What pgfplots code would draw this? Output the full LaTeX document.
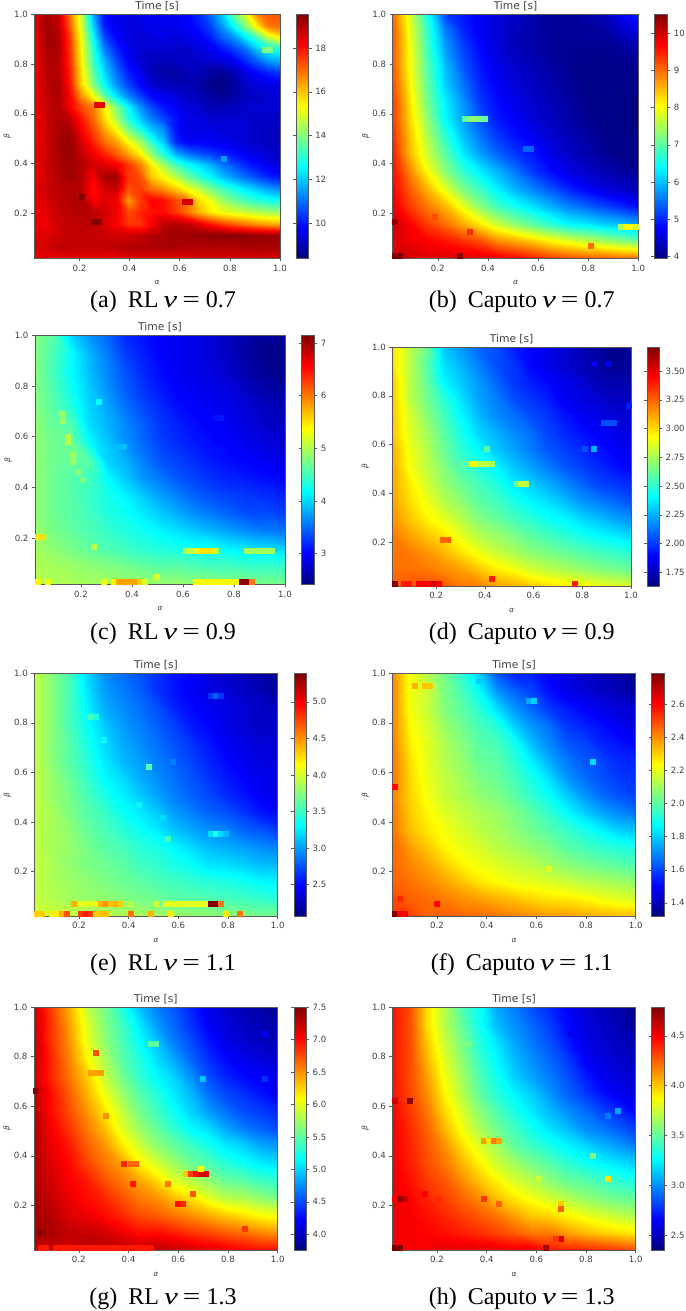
\documentclass[border=0pt]{standalone}
\usepackage{fontspec}
\setmainfont{DejaVu Sans}
\newfontfamily\capfont{Liberation Serif}
\usepackage{pgfplots}
\usepackage{pgfplotstable}
\pgfplotsset{compat=1.18}
\pgfplotsset{table/row sep=crcr,
  colormap/jet,
  axis line style={black!65,line width=0.6pt},
  tick style={black!65,line width=0.5pt},
  major tick length=3pt,
  tick align=outside,
  tick label style={font=\fontsize{8.6}{10}\selectfont,text=black!75},
  /pgf/number format/assume math mode=true,
  hm/.style={scale only axis, anchor=south west, xmin=0.02,xmax=1,ymin=0.02,ymax=1,
    xtick={0.2,0.4,0.6,0.8,1.0},ytick={0.2,0.4,0.6,0.8,1.0},
    xtick pos=left,ytick pos=left,
    xticklabel style={/pgf/number format/.cd,fixed,fixed zerofill,precision=1},
    yticklabel style={/pgf/number format/.cd,fixed,fixed zerofill,precision=1},
    xlabel={\itshape α},ylabel={\itshape β},
    xlabel style={font=\fontsize{7.5}{9}\selectfont,text=black!75,at={(axis description cs:0.5,0)},anchor=center,yshift=-24pt},
    ylabel style={font=\fontsize{7.5}{9}\selectfont,text=black!75,at={(axis description cs:0,0.5)},anchor=center,yshift=27pt},
    title={Time [s]},
    title style={font=\fontsize{10.7}{12}\selectfont,text=black!75,at={(0.5,1)},anchor=center,yshift=2pt},
    axis on top,
    colorbar},
  cb/.style n args={5}{colorbar style={at={(parent axis.north east)},anchor=north west,xshift=#1pt-8.5pt,width=#2pt,
    ytick={#3},
    yticklabel style={/pgf/number format/.cd,fixed,fixed zerofill,precision=#4},
    ylabel={}}, point meta min=#5}
}
\newcommand\hm[3]{%
  \addplot[surf,shader=interp,mesh/cols=#1,point meta=explicit]
    table[x index=0,y index=0,x expr={0.02+0.98/(#1-1)*mod(\coordindex,#1)},y expr={0.02+0.98/(#1-1)*floor((\coordindex+0.5)/#1)},meta=z]{#2};
  \addplot[scatter,only marks,mark=square*,mark size=2.5,scatter src=explicit,scatter/use mapped color={draw=mapped color,fill=mapped color},mark options={line width=0pt}]
    table[x=a,y=b,meta=c]{#3};
}
\newcommand\capt[3]{\node[anchor=base,font=\capfont\fontsize{24}{26}\selectfont,text=black] at (#1pt,#2pt) {#3};}
\newcommand\nueq[1]{\hspace{-1pt}\scalebox{1.3}[1]{\itshape ν}\hspace{5pt}\scalebox{1.3}[1]{=}\hspace{6pt}#1}

\pgfplotstableread[row sep=crcr]{z\\
18.3\\18.5\\18.4\\18.4\\18.4\\18.4\\18.4\\18.4\\18.5\\18.5\\18.5\\18.5\\18.5\\18.5\\18.6\\18.6\\18.6\\18.6\\18.6\\18.6\\18.6\\18.6\\
18.6\\18.6\\18.9\\18.9\\18.8\\18.8\\18.8\\18.9\\19\\19\\19.1\\19.1\\19.1\\19\\19\\19\\19\\19\\19.1\\19.1\\19.1\\19.1\\
18.5\\18.5\\18.7\\18.8\\18.8\\18.8\\18.7\\18.6\\18.7\\18.8\\19\\19.1\\19.2\\19.2\\19.3\\19.4\\19.4\\19.4\\19.4\\19.3\\19.3\\19.2\\
18.4\\18.3\\18.7\\18.8\\18.9\\18.9\\18.6\\18.2\\17.6\\17.6\\18.2\\18.9\\19\\18.9\\18.5\\18\\17.6\\17.2\\16.9\\16.6\\16.4\\16.3\\
18.3\\18.5\\18.8\\18.9\\19\\18.9\\18.7\\18.3\\17.4\\17.8\\18\\18\\17.6\\17\\16.2\\15.6\\15.2\\15\\14.8\\14.6\\14.4\\14.3\\
18.3\\18.6\\18.9\\19\\19.1\\18.2\\18.5\\18.4\\16.5\\17.5\\18.2\\18\\17.4\\17\\15.8\\15.2\\14.4\\13.8\\13.3\\13\\12.8\\12.6\\
18.5\\18.7\\18.9\\19\\18.9\\18\\18.6\\18.8\\17.3\\17.5\\17\\16.6\\16\\15.4\\14.8\\14\\13.4\\12.9\\12.4\\12\\11.6\\11.3\\
18.3\\18.7\\19\\19.2\\19\\18.2\\19.1\\19.2\\17.6\\17.3\\16\\15.4\\14.7\\13.9\\13.2\\12.6\\12\\11.5\\11\\10.6\\10.2\\10\\
18.3\\18.8\\19\\19.2\\19\\18.6\\18.5\\18.3\\17.6\\16.8\\15.6\\14.4\\13.4\\12.8\\12.3\\11.8\\11.2\\10.7\\10.2\\9.9\\9.6\\9.4\\
18.3\\18.7\\19.1\\19.3\\18.8\\18.3\\17.8\\17.2\\16.4\\15.6\\14.2\\13\\11.8\\11.2\\10.8\\10.5\\10.2\\10\\9.7\\9.5\\9.3\\9.2\\
18.3\\18.7\\19.2\\19.3\\18.6\\17.8\\17\\16.4\\15.4\\14.4\\13.2\\12\\10.3\\9.8\\9.8\\9.7\\9.6\\9.5\\9.3\\9.2\\9.1\\9.1\\
18.2\\18.7\\19.1\\19.2\\18.2\\17.4\\16.4\\15.4\\14\\13\\12\\11.4\\10\\9.5\\9.5\\9.5\\9.4\\9.4\\9.3\\9.2\\9.1\\9.1\\
18.3\\18.7\\19\\18.9\\18\\17\\15.8\\14.5\\13\\12\\11.2\\10.6\\10\\9.5\\9.5\\9.3\\9.3\\9.3\\9.3\\9.2\\9.2\\9.2\\
18.3\\18.8\\19\\18.3\\17.4\\16.8\\15.5\\14\\12.6\\11.4\\10.6\\10\\9.8\\9.4\\9.3\\9\\9\\9.1\\9.3\\9.3\\9.3\\9.3\\
18.3\\18.8\\19.1\\18.2\\16.5\\15.2\\13.6\\12.2\\11.2\\10.4\\9.8\\9.6\\9.4\\9.2\\9\\8.7\\8.6\\8.8\\9.1\\9.2\\9.3\\9.3\\
18.3\\18.9\\19.1\\18\\15.8\\14\\12.6\\11.4\\10.5\\9.8\\9.3\\9.1\\9\\9\\8.8\\8.5\\8.45\\8.7\\9.2\\9.4\\9.5\\9.6\\
18.3\\18.9\\19\\17.9\\15.7\\13.6\\12.2\\11\\10.1\\9.6\\9.1\\8.8\\8.8\\9\\9.1\\8.8\\8.6\\8.9\\9.5\\9.9\\10.2\\10.4\\
18.3\\19\\19\\17.8\\15.5\\13.2\\11.8\\10.6\\9.8\\9.3\\9.1\\9\\9.1\\9.2\\9.2\\9.3\\9.4\\9.6\\10.2\\10.8\\11.4\\11.7\\
18.3\\19.1\\19.1\\17.7\\15.4\\13\\11.2\\10.2\\9.6\\9.3\\9.3\\9.3\\9.2\\9.2\\9.4\\9.6\\10\\10.4\\11\\12\\12.6\\12.8\\
18.3\\19.2\\19\\17.6\\15.2\\12.6\\10.6\\9.8\\9.4\\9.3\\9.4\\9.5\\9.4\\9.5\\9.7\\10.1\\10.8\\11.4\\12.4\\13.4\\14.8\\15.6\\
18.4\\19.2\\18.9\\17.3\\15\\12.1\\10.1\\9.6\\9.5\\9.5\\9.6\\9.6\\9.6\\9.7\\10\\10.5\\11.4\\12.6\\14\\15.6\\16.8\\17\\
18.5\\19\\18.8\\17\\14.8\\11.6\\9.9\\9.5\\9.4\\9.5\\9.6\\9.7\\9.7\\9.8\\10.2\\11\\12\\13.6\\15\\16.7\\17.2\\17.2\\
}\ta
\pgfplotstableread[row sep=crcr]{a b c\\
0.27 0.637 18.4\\0.29 0.637 18.4\\0.62 0.245 18.6\\0.64 0.245 18.6\\0.26 0.167 19.5\\0.28 0.167 19.5\\0.775 0.42 11.5\\0.94 0.855 14\\0.96 0.855 14\\0.21 0.265 19.5\\
}\ma

\pgfplotstableread[row sep=crcr]{z\\
9.9\\10\\9.9\\9.9\\9.9\\9.9\\9.8\\9.7\\9.5\\9.3\\9.2\\9.1\\9.1\\9\\9\\
9.9\\9.8\\9.7\\9.6\\9.4\\9.2\\8.8\\8.6\\8.4\\8.1\\7.9\\7.7\\7.5\\7.3\\7.1\\
10\\9.7\\9.3\\9\\8.6\\8.2\\7.7\\7.3\\7\\6.7\\6.4\\6.3\\6.1\\6\\5.8\\
9.8\\9.3\\8.9\\8.5\\7.9\\7.3\\6.8\\6.5\\6.2\\5.9\\5.6\\5.4\\5.2\\5\\4.8\\
9.7\\9.1\\8.5\\7.9\\7.2\\6.8\\6.3\\5.9\\5.6\\5.3\\5\\4.75\\4.55\\4.45\\4.3\\
9.6\\8.8\\8\\7.3\\6.7\\6.3\\5.9\\5.5\\5.1\\4.8\\4.6\\4.4\\4.25\\4.15\\4.05\\
9.5\\8.5\\7.7\\7\\6.3\\5.8\\5.4\\5.1\\4.9\\4.6\\4.4\\4.25\\4.1\\4\\4\\
9.4\\8.4\\7.5\\6.7\\6\\5.5\\5.1\\4.85\\4.65\\4.45\\4.3\\4.15\\4\\3.98\\3.97\\
9.3\\8.3\\7.3\\6.4\\5.8\\5.3\\4.9\\4.7\\4.5\\4.35\\4.2\\4.05\\3.98\\3.96\\3.95\\
9.3\\8.2\\7.1\\6.3\\5.7\\5.1\\4.8\\4.6\\4.4\\4.3\\4.15\\4\\3.98\\3.96\\3.95\\
9.2\\8.1\\7\\6.1\\5.5\\5\\4.7\\4.5\\4.35\\4.2\\4.1\\4\\4\\4\\4\\
9.1\\8\\6.9\\6\\5.3\\4.9\\4.6\\4.4\\4.3\\4.15\\4.05\\4\\4\\4\\4.05\\
9.1\\8\\6.8\\5.8\\5.2\\4.8\\4.5\\4.3\\4.2\\4.1\\4.05\\4.05\\4.05\\4.1\\4.2\\
9.1\\7.9\\6.7\\5.6\\5\\4.7\\4.5\\4.3\\4.2\\4.1\\4.1\\4.1\\4.15\\4.4\\4.6\\
9\\7.8\\6.5\\5.2\\4.9\\4.7\\4.5\\4.4\\4.2\\4.1\\4.1\\4.2\\4.3\\4.7\\5\\
}\tb
\pgfplotstableread[row sep=crcr]{a b c\\
0.31 0.58 7\\0.33 0.58 7.2\\0.35 0.58 7.4\\0.37 0.58 7.2\\0.39 0.58 7\\0.03 0.167 10.4\\0.03 0.03 10.5\\0.05 0.03 10.5\\0.29 0.03 10.5\\0.33 0.127 9.4\\0.19 0.187 9.2\\0.81 0.07 9\\0.93 0.147 7.5\\0.95 0.147 8\\0.97 0.147 8\\0.99 0.147 7.8\\0.55 0.46 5.4\\0.57 0.46 5.4\\
}\mb

\pgfplotstableread[row sep=crcr]{z\\
5.05\\5\\5\\4.95\\4.95\\4.9\\4.9\\4.9\\4.9\\4.85\\4.85\\4.8\\4.8\\4.75\\4.75\\
5\\4.95\\4.9\\4.85\\4.8\\4.75\\4.65\\4.6\\4.6\\4.55\\4.5\\4.5\\4.45\\4.45\\4.45\\
4.95\\4.85\\4.75\\4.65\\4.55\\4.5\\4.4\\4.35\\4.3\\4.25\\4.25\\4.15\\4.1\\4.05\\4\\
4.9\\4.75\\4.65\\4.55\\4.45\\4.35\\4.25\\4.15\\4.05\\3.95\\3.85\\3.75\\3.65\\3.6\\3.55\\
4.85\\4.7\\4.6\\4.5\\4.35\\4.25\\4.1\\3.95\\3.8\\3.65\\3.55\\3.45\\3.35\\3.35\\3.3\\
4.85\\4.7\\4.6\\4.45\\4.3\\4.15\\3.95\\3.75\\3.6\\3.45\\3.35\\3.3\\3.25\\3.2\\3.15\\
4.85\\4.7\\4.6\\4.5\\4.2\\3.95\\3.7\\3.55\\3.4\\3.3\\3.2\\3.15\\3.1\\3.05\\3\\
4.85\\4.7\\4.65\\4.6\\4\\3.85\\3.6\\3.4\\3.3\\3.2\\3.1\\3.05\\3\\2.95\\2.9\\
4.85\\4.7\\4.7\\4.2\\3.95\\3.7\\3.5\\3.3\\3.2\\3.1\\3.05\\3\\2.9\\2.85\\2.8\\
4.85\\4.65\\4.55\\4.05\\3.85\\3.65\\3.45\\3.25\\3.15\\3.05\\3\\2.95\\2.85\\2.75\\2.7\\
4.8\\4.6\\4.35\\4\\3.8\\3.55\\3.35\\3.2\\3.05\\3\\2.95\\2.9\\2.8\\2.7\\2.65\\
4.8\\4.55\\4.25\\3.95\\3.7\\3.45\\3.25\\3.1\\3\\2.95\\2.9\\2.85\\2.7\\2.6\\2.55\\
4.8\\4.5\\4.2\\3.9\\3.65\\3.4\\3.2\\3.05\\2.95\\2.9\\2.85\\2.75\\2.6\\2.5\\2.45\\
4.8\\4.55\\4.2\\3.85\\3.6\\3.3\\3.15\\3\\2.95\\2.9\\2.8\\2.7\\2.55\\2.45\\2.45\\
4.8\\4.6\\4\\3.7\\3.5\\3.2\\3.1\\3\\2.95\\2.9\\2.8\\2.7\\2.6\\2.55\\2.5\\
}\tc
\pgfplotstableread[row sep=crcr]{a b c\\
0.03 0.03 5.4\\0.07 0.03 5.3\\0.29 0.03 5.3\\0.33 0.03 5.4\\0.35 0.03 5.8\\0.37 0.03 5.8\\0.39 0.03 5.8\\0.41 0.03 5.8\\0.43 0.03 5.6\\0.45 0.03 5.2\\0.65 0.03 5.4\\0.67 0.03 5.4\\0.69 0.03 5.4\\0.71 0.03 5.4\\0.73 0.03 5.4\\0.75 0.03 5.4\\0.77 0.03 5.4\\0.79 0.03 5.4\\0.81 0.03 5.4\\0.83 0.03 7.1\\0.85 0.03 7.1\\0.87 0.03 6\\
0.03 0.207 5.5\\0.05 0.207 5.5\\0.25 0.165 5.1\\0.27 0.735 4.2\\0.5 0.05 5.2\\0.61 0.15 5\\0.63 0.15 5.1\\0.65 0.15 5.2\\0.67 0.15 5.5\\0.69 0.15 5.5\\0.71 0.15 5.5\\0.73 0.15 5.1\\0.85 0.15 4.95\\0.87 0.15 4.95\\0.89 0.15 4.95\\0.91 0.15 4.95\\0.93 0.15 4.95\\0.95 0.15 4.95\\
0.73 0.675 3.1\\0.75 0.675 3.1\\0.52 0.615 3.25\\0.35 0.56 3.9\\0.37 0.56 3.9\\0.125 0.69 4.95\\0.13 0.66 4.95\\0.15 0.6 5.05\\0.15 0.58 5.05\\0.17 0.53 4.95\\0.17 0.5 4.9\\0.19 0.46 4.85\\0.21 0.43 4.75\\0.73 0.58 3\\0.75 0.58 3\\
}\mc

\pgfplotstableread[row sep=crcr]{z\\
3.25\\3.27\\3.3\\3.28\\3.2\\3.2\\3.12\\3.1\\3.05\\3\\2.97\\2.95\\2.9\\2.88\\2.85\\
3.22\\3.22\\3.2\\3.17\\3.12\\3.05\\2.97\\2.92\\2.84\\2.8\\2.76\\2.72\\2.68\\2.65\\2.62\\
3.22\\3.2\\3.15\\3.08\\2.98\\2.9\\2.82\\2.76\\2.7\\2.66\\2.62\\2.58\\2.55\\2.52\\2.48\\
3.2\\3.12\\3.05\\2.98\\2.88\\2.78\\2.72\\2.67\\2.6\\2.55\\2.5\\2.45\\2.4\\2.37\\2.33\\
3.15\\3.05\\2.95\\2.88\\2.78\\2.68\\2.62\\2.55\\2.5\\2.43\\2.4\\2.33\\2.28\\2.22\\2.18\\
3.12\\3\\2.9\\2.78\\2.7\\2.6\\2.55\\2.47\\2.4\\2.35\\2.28\\2.2\\2.15\\2.1\\2.05\\
3.1\\2.97\\2.85\\2.72\\2.63\\2.55\\2.48\\2.38\\2.32\\2.25\\2.18\\2.1\\2.03\\2\\1.97\\
3.1\\2.92\\2.8\\2.68\\2.55\\2.47\\2.4\\2.3\\2.22\\2.15\\2.07\\2.02\\1.97\\1.92\\1.88\\
3.1\\2.9\\2.78\\2.63\\2.5\\2.4\\2.3\\2.23\\2.15\\2.07\\2.02\\1.97\\1.92\\1.88\\1.85\\
3.05\\2.87\\2.75\\2.6\\2.45\\2.33\\2.25\\2.18\\2.12\\2.03\\1.97\\1.92\\1.88\\1.85\\1.83\\
3.05\\2.85\\2.7\\2.55\\2.4\\2.27\\2.18\\2.12\\2.05\\2\\1.93\\1.87\\1.84\\1.8\\1.8\\
3.05\\2.8\\2.65\\2.5\\2.35\\2.22\\2.15\\2.05\\2\\1.95\\1.87\\1.83\\1.8\\1.76\\1.76\\
3.05\\2.8\\2.62\\2.4\\2.3\\2.2\\2.1\\2\\1.95\\1.9\\1.85\\1.8\\1.74\\1.72\\1.72\\
3\\2.8\\2.6\\2.35\\2.25\\2.15\\2.05\\2\\1.9\\1.85\\1.8\\1.75\\1.7\\1.66\\1.68\\
3\\2.8\\2.65\\2.3\\2.2\\2.1\\2.05\\1.95\\1.9\\1.85\\1.8\\1.75\\1.7\\1.65\\1.67\\
}\td
\pgfplotstableread[row sep=crcr]{a b c\\
0.03 0.03 3.71\\0.07 0.03 3.4\\0.09 0.03 3.4\\0.13 0.03 3.45\\0.15 0.03 3.45\\0.17 0.03 3.45\\0.19 0.03 3.55\\0.21 0.03 3.45\\0.43 0.047 3.4\\0.77 0.03 3.4\\0.23 0.207 3.25\\0.25 0.207 3.25\\
0.31 0.52 2.6\\0.33 0.52 2.6\\0.35 0.52 2.95\\0.37 0.52 2.8\\0.39 0.52 2.8\\0.41 0.52 2.8\\0.43 0.52 2.75\\0.53 0.44 2.6\\0.55 0.44 2.8\\0.57 0.44 2.8\\0.41 0.58 2.6\\0.81 0.58 2.05\\0.85 0.58 2.25\\0.89 0.69 2.05\\0.91 0.69 2.05\\0.93 0.69 2.05\\0.85 0.93 1.85\\0.91 0.93 1.85\\0.99 0.76 1.95\\
}\md

\pgfplotstableread[row sep=crcr]{z\\
4\\3.97\\3.95\\3.92\\3.9\\3.88\\3.88\\3.85\\3.85\\3.8\\3.8\\3.75\\3.75\\3.7\\3.7\\
3.95\\3.9\\3.85\\3.8\\3.78\\3.75\\3.7\\3.67\\3.62\\3.6\\3.58\\3.55\\3.52\\3.48\\3.45\\
3.95\\3.87\\3.82\\3.78\\3.72\\3.67\\3.62\\3.57\\3.52\\3.47\\3.43\\3.4\\3.36\\3.3\\3.28\\
3.95\\3.87\\3.78\\3.72\\3.67\\3.62\\3.52\\3.47\\3.4\\3.33\\3.23\\3.2\\3.16\\3.1\\3.08\\
3.95\\3.85\\3.8\\3.7\\3.6\\3.55\\3.45\\3.4\\3.3\\3.2\\3.1\\3.05\\3\\2.95\\2.9\\
3.95\\3.85\\3.78\\3.65\\3.55\\3.45\\3.35\\3.25\\3.12\\3.02\\2.95\\2.9\\2.8\\2.75\\2.65\\
3.95\\3.85\\3.72\\3.6\\3.5\\3.35\\3.25\\3.15\\3\\2.9\\2.8\\2.75\\2.65\\2.55\\2.5\\
3.95\\3.8\\3.7\\3.55\\3.4\\3.28\\3.15\\3.02\\2.9\\2.8\\2.72\\2.62\\2.55\\2.45\\2.42\\
3.95\\3.8\\3.65\\3.5\\3.3\\3.2\\3.05\\2.95\\2.85\\2.75\\2.65\\2.55\\2.48\\2.42\\2.4\\
3.95\\3.75\\3.6\\3.45\\3.25\\3.1\\3\\2.9\\2.8\\2.7\\2.6\\2.5\\2.42\\2.38\\2.38\\
3.95\\3.75\\3.6\\3.4\\3.2\\3.05\\2.95\\2.85\\2.75\\2.65\\2.55\\2.45\\2.4\\2.35\\2.35\\
3.95\\3.75\\3.55\\3.35\\3.15\\3\\2.9\\2.8\\2.7\\2.55\\2.5\\2.4\\2.35\\2.3\\2.3\\
3.95\\3.75\\3.55\\3.3\\3.05\\2.95\\2.85\\2.75\\2.6\\2.5\\2.45\\2.4\\2.35\\2.3\\2.25\\
3.95\\3.75\\3.55\\3.25\\3\\2.9\\2.8\\2.65\\2.55\\2.45\\2.4\\2.35\\2.3\\2.25\\2.15\\
3.95\\3.75\\3.55\\3.2\\2.95\\2.85\\2.75\\2.65\\2.55\\2.5\\2.35\\2.3\\2.25\\2.2\\2.1\\
}\te
\pgfplotstableread[row sep=crcr]{a b c\\
0.18 0.07 4.4\\0.21 0.07 4.05\\0.23 0.07 4.05\\0.25 0.07 4.05\\0.27 0.07 4.05\\0.29 0.07 4.4\\0.31 0.07 4.5\\0.33 0.07 4.35\\0.35 0.07 4.4\\0.37 0.07 4.3\\0.41 0.07 3.9\\0.51 0.07 4\\0.55 0.07 4.05\\0.57 0.07 4.05\\0.59 0.07 4.05\\0.61 0.07 4.05\\0.63 0.07 4.05\\0.65 0.07 4.05\\0.67 0.07 4.05\\0.69 0.07 4.05\\0.71 0.07 4.05\\0.73 0.07 5.39\\0.75 0.07 5.39\\0.77 0.07 4.6\\
0.03 0.03 4.3\\0.05 0.03 4.3\\0.09 0.03 4.2\\0.11 0.03 4.2\\0.13 0.03 4.4\\0.15 0.03 4.7\\0.21 0.03 4.8\\0.23 0.03 4.9\\0.25 0.03 4.8\\0.27 0.03 4.3\\0.29 0.03 4.35\\0.31 0.03 4.35\\0.41 0.03 4.6\\0.49 0.03 4.4\\0.57 0.03 4.2\\0.79 0.03 4.2\\0.85 0.03 4.6\\
0.48 0.62 3.6\\0.25 0.825 3.55\\0.27 0.825 3.4\\0.73 0.91 2.65\\0.75 0.91 2.8\\0.77 0.91 2.65\\0.58 0.64 2.9\\0.54 0.415 3.2\\0.44 0.47 3.3\\0.73 0.35 3.2\\0.75 0.35 3.4\\0.77 0.35 3.2\\0.79 0.35 3.1\\0.56 0.33 3.55\\0.3 0.73 3.3\\
}\me

\pgfplotstableread[row sep=crcr]{z\\
2.52\\2.52\\2.46\\2.47\\2.46\\2.45\\2.44\\2.42\\2.4\\2.38\\2.38\\2.36\\2.35\\2.34\\2.33\\
2.5\\2.47\\2.45\\2.43\\2.4\\2.38\\2.35\\2.33\\2.3\\2.28\\2.27\\2.25\\2.22\\2.2\\2.18\\
2.47\\2.44\\2.41\\2.37\\2.32\\2.27\\2.24\\2.21\\2.2\\2.18\\2.16\\2.13\\2.12\\2.1\\2.08\\
2.46\\2.41\\2.37\\2.31\\2.25\\2.22\\2.19\\2.16\\2.14\\2.1\\2.07\\2.04\\2.02\\2\\1.98\\
2.46\\2.38\\2.32\\2.25\\2.21\\2.18\\2.14\\2.11\\2.08\\2.05\\2\\1.97\\1.94\\1.92\\1.9\\
2.44\\2.33\\2.27\\2.22\\2.18\\2.14\\2.11\\2.07\\2.03\\1.99\\1.95\\1.9\\1.85\\1.8\\1.78\\
2.44\\2.31\\2.25\\2.19\\2.15\\2.12\\2.09\\2.05\\2\\1.94\\1.87\\1.8\\1.74\\1.7\\1.66\\
2.42\\2.3\\2.22\\2.16\\2.12\\2.08\\2.05\\2\\1.94\\1.88\\1.8\\1.72\\1.66\\1.62\\1.6\\
2.44\\2.29\\2.21\\2.15\\2.1\\2.05\\2.02\\1.97\\1.9\\1.82\\1.72\\1.66\\1.62\\1.58\\1.57\\
2.44\\2.28\\2.2\\2.13\\2.08\\2.02\\2\\1.93\\1.85\\1.75\\1.68\\1.63\\1.6\\1.56\\1.55\\
2.43\\2.26\\2.2\\2.12\\2.06\\2\\1.97\\1.9\\1.78\\1.7\\1.63\\1.6\\1.55\\1.53\\1.5\\
2.42\\2.24\\2.18\\2.09\\2.03\\1.97\\1.92\\1.8\\1.72\\1.66\\1.58\\1.55\\1.52\\1.48\\1.45\\
2.42\\2.22\\2.16\\2.06\\2\\1.93\\1.82\\1.72\\1.65\\1.58\\1.54\\1.5\\1.47\\1.45\\1.43\\
2.42\\2.22\\2.17\\2.05\\1.97\\1.88\\1.72\\1.65\\1.6\\1.52\\1.47\\1.45\\1.42\\1.4\\1.36\\
2.42\\2.22\\2.13\\2.04\\1.93\\1.8\\1.62\\1.55\\1.55\\1.5\\1.46\\1.42\\1.4\\1.38\\1.33\\
}\tf
\pgfplotstableread[row sep=crcr]{a b c\\
0.03 0.03 2.79\\0.05 0.03 2.62\\0.07 0.03 2.62\\0.03 0.54 2.6\\0.2 0.07 2.6\\0.05 0.09 2.55\\0.11 0.95 2.35\\0.15 0.95 2.32\\0.17 0.95 2.32\\0.37 0.97 1.8\\0.57 0.89 1.75\\0.59 0.89 1.8\\0.83 0.64 1.82\\0.65 0.21 2.2\\
}\mf

\pgfplotstableread[row sep=crcr]{z\\
7.25\\7.2\\7.2\\7.3\\7.3\\7.3\\7.25\\7.3\\7.25\\7.2\\7.15\\7.1\\7.05\\7\\7\\
7.35\\7.35\\7.25\\7.25\\7.2\\7.1\\7\\7\\6.95\\6.85\\6.8\\6.7\\6.65\\6.55\\6.5\\
7.35\\7.3\\7.15\\7.1\\7\\6.9\\6.75\\6.7\\6.6\\6.5\\6.4\\6.3\\6.2\\6.1\\6.05\\
7.35\\7.25\\7.1\\7\\6.9\\6.75\\6.6\\6.5\\6.35\\6.2\\6\\5.85\\5.8\\5.7\\5.6\\
7.3\\7.2\\7.05\\6.95\\6.75\\6.6\\6.45\\6.25\\6\\5.85\\5.7\\5.55\\5.5\\5.4\\5.35\\
7.3\\7.15\\7\\6.8\\6.6\\6.45\\6.15\\5.95\\5.75\\5.55\\5.45\\5.3\\5.2\\5.1\\5.05\\
7.3\\7.1\\6.95\\6.7\\6.5\\6.2\\5.95\\5.7\\5.55\\5.4\\5.25\\5.1\\5\\4.85\\4.8\\
7.3\\7.05\\6.85\\6.6\\6.35\\6\\5.75\\5.55\\5.35\\5.15\\5.05\\4.85\\4.7\\4.6\\4.5\\
7.3\\7\\6.75\\6.5\\6.2\\5.9\\5.6\\5.4\\5.2\\5\\4.8\\4.65\\4.5\\4.45\\4.35\\
7.25\\7\\6.7\\6.4\\6.05\\5.75\\5.5\\5.3\\5.1\\4.9\\4.65\\4.5\\4.4\\4.3\\4.2\\
7.2\\6.9\\6.6\\6.3\\5.9\\5.6\\5.35\\5.15\\5\\4.75\\4.5\\4.35\\4.25\\4.2\\4.15\\
7.25\\6.9\\6.55\\6.15\\5.8\\5.5\\5.3\\5.05\\4.85\\4.6\\4.4\\4.25\\4.15\\4.1\\4.05\\
7.25\\6.85\\6.5\\6.05\\5.7\\5.45\\5.2\\4.95\\4.7\\4.5\\4.3\\4.15\\4.05\\4\\3.95\\
7.2\\6.85\\6.45\\6\\5.65\\5.4\\5.1\\4.8\\4.6\\4.4\\4.2\\4.1\\4\\3.95\\3.9\\
7.2\\6.8\\6.4\\5.9\\5.6\\5.3\\4.95\\4.7\\4.55\\4.35\\4.15\\4.05\\3.95\\3.9\\3.76\\
}\tg
\pgfplotstableread[row sep=crcr]{a b c\\
0.05 0.03 6.95\\0.07 0.03 6.95\\0.11 0.03 6.95\\0.13 0.03 6.95\\0.15 0.03 6.95\\0.17 0.03 6.95\\0.19 0.03 6.95\\0.21 0.03 6.95\\0.23 0.03 6.95\\0.25 0.03 6.95\\0.27 0.03 6.95\\0.29 0.03 6.95\\0.31 0.03 6.95\\0.33 0.03 6.95\\0.35 0.03 6.95\\0.37 0.03 6.95\\0.39 0.03 6.95\\0.41 0.03 6.95\\0.43 0.03 6.95\\0.45 0.03 6.95\\0.47 0.03 6.95\\0.49 0.03 6.95\\
0.03 0.66 7.45\\0.05 0.09 7.45\\0.27 0.815 6.75\\0.25 0.735 6.45\\0.27 0.735 6.45\\0.29 0.735 6.45\\0.31 0.56 6.5\\0.38 0.365 6.9\\0.41 0.365 6.65\\0.43 0.365 6.65\\0.42 0.285 6.95\\0.56 0.285 6.6\\0.6 0.205 7\\0.62 0.205 6.9\\0.66 0.245 6.7\\0.63 0.325 6.3\\0.65 0.325 6.8\\0.67 0.325 7\\0.69 0.325 7.15\\0.71 0.325 7.15\\0.69 0.345 6.1\\0.87 0.105 6.85\\0.49 0.85 5.5\\0.51 0.85 5.5\\0.7 0.71 4.95\\0.95 0.89 4.2\\0.95 0.71 4.4\\
}\mg

\pgfplotstableread[row sep=crcr]{z\\
4.5\\4.5\\4.5\\4.55\\4.55\\4.55\\4.55\\4.52\\4.55\\4.45\\4.4\\4.4\\4.38\\4.35\\4.3\\
4.52\\4.5\\4.48\\4.45\\4.42\\4.38\\4.33\\4.27\\4.2\\4.2\\4.12\\4.05\\4\\3.96\\3.92\\
4.52\\4.5\\4.45\\4.4\\4.33\\4.27\\4.2\\4.1\\4\\3.97\\3.9\\3.83\\3.78\\3.72\\3.68\\
4.52\\4.48\\4.4\\4.33\\4.25\\4.15\\4.02\\3.93\\3.85\\3.77\\3.7\\3.62\\3.57\\3.52\\3.5\\
4.52\\4.45\\4.35\\4.28\\4.15\\4.02\\3.9\\3.78\\3.7\\3.6\\3.52\\3.48\\3.42\\3.37\\3.32\\
4.5\\4.42\\4.3\\4.2\\4.05\\3.9\\3.75\\3.65\\3.55\\3.47\\3.38\\3.3\\3.25\\3.2\\3.15\\
4.5\\4.4\\4.28\\4.15\\3.95\\3.8\\3.65\\3.5\\3.42\\3.33\\3.25\\3.18\\3.1\\3.03\\2.95\\
4.5\\4.38\\4.25\\4.05\\3.85\\3.68\\3.53\\3.42\\3.3\\3.2\\3.12\\3\\2.95\\2.88\\2.8\\
4.48\\4.35\\4.2\\3.97\\3.78\\3.6\\3.45\\3.33\\3.22\\3.1\\3\\2.92\\2.82\\2.75\\2.65\\
4.45\\4.32\\4.15\\3.9\\3.7\\3.5\\3.35\\3.25\\3.15\\3.02\\2.9\\2.8\\2.7\\2.62\\2.57\\
4.45\\4.3\\4.1\\3.85\\3.65\\3.45\\3.3\\3.15\\3.05\\2.95\\2.85\\2.72\\2.62\\2.57\\2.52\\
4.45\\4.3\\4.05\\3.8\\3.6\\3.4\\3.25\\3.1\\3\\2.9\\2.8\\2.65\\2.58\\2.53\\2.5\\
4.45\\4.3\\4\\3.75\\3.55\\3.35\\3.2\\3.05\\2.95\\2.85\\2.72\\2.6\\2.55\\2.5\\2.47\\
4.45\\4.3\\3.95\\3.7\\3.5\\3.3\\3.1\\3\\2.9\\2.8\\2.68\\2.58\\2.52\\2.47\\2.4\\
4.45\\4.3\\3.95\\3.7\\3.45\\3.3\\3.05\\2.95\\2.85\\2.75\\2.65\\2.55\\2.5\\2.45\\2.35\\
}\th
\pgfplotstableread[row sep=crcr]{a b c\\
0.03 0.03 4.79\\0.05 0.03 4.79\\0.03 0.62 4.6\\0.09 0.62 4.75\\0.03 0.225 4.5\\0.05 0.225 4.75\\0.07 0.225 4.65\\0.15 0.245 4.5\\0.21 0.225 4.4\\0.39 0.225 4.35\\0.45 0.205 4.25\\0.7 0.205 4\\0.7 0.185 4.25\\0.7 0.065 4.55\\0.68 0.065 4.35\\0.64 0.03 4.7\\0.31 0.85 3.55\\0.33 0.85 3.55\\0.39 0.46 4.1\\0.41 0.46 3.95\\0.43 0.46 4.2\\0.45 0.46 4.1\\0.89 0.305 3.95\\0.74 0.89 2.6\\0.89 0.56 2.95\\0.93 0.58 3.05\\0.83 0.4 3.55\\0.61 0.305 3.75\\
}\mh

\begin{document}
\begin{tikzpicture}
\path[use as bounding box] (0,0) rectangle (685pt,1311pt);
% (a)
\begin{axis}[hm,at={(34.3pt,1052.5pt)},width=245.7pt,height=244.5pt,cb={16}{12.7}{10,12,14,16,18}{0}{8.4},point meta max=19.55]
\hm{22}{\ta}{\ma}
\end{axis}
% (b)
\begin{axis}[hm,at={(392.7pt,1052.5pt)},width=245.6pt,height=244.5pt,cb={16}{13}{4,5,6,7,8,9,10}{0}{3.94},point meta max=10.52]
\hm{15}{\tb}{\mb}
\end{axis}
% (c)
\begin{axis}[hm,at={(35pt,726.7pt)},width=250pt,height=249.3pt,cb={16.7}{12.6}{3,4,5,6,7}{0}{2.42},point meta max=7.15]
\hm{15}{\tc}{\mc}
\end{axis}
% (d)
\begin{axis}[hm,at={(392.3pt,725pt)},width=238.7pt,height=239pt,cb={16}{12}{1.75,2,2.25,2.5,2.75,3,3.25,3.5}{2}{1.63},point meta max=3.71]
\hm{15}{\td}{\md}
\end{axis}
% (e)
\begin{axis}[hm,at={(34.3pt,395pt)},width=243.4pt,height=242.7pt,cb={16.3}{12}{2.5,3,3.5,4,4.5,5}{1}{2.07},point meta max=5.39]
\hm{15}{\te}{\me}
\end{axis}
% (f)
\begin{axis}[hm,at={(392.3pt,395pt)},width=243.4pt,height=242.7pt,cb={16}{12.6}{1.4,1.6,1.8,2,2.2,2.4,2.6}{1}{1.32},point meta max=2.79]
\hm{15}{\tf}{\mf}
\end{axis}
% (g)
\begin{axis}[hm,at={(34pt,61pt)},width=243.7pt,height=243pt,cb={16.3}{12}{4,4.5,5,5.5,6,6.5,7,7.5}{1}{3.76},point meta max=7.5]
\hm{15}{\tg}{\mg}
\end{axis}
% (h)
\begin{axis}[hm,at={(392.3pt,61pt)},width=243.4pt,height=243pt,cb={16}{12.6}{2.5,3,3.5,4,4.5}{1}{2.35},point meta max=4.79]
\hm{15}{\th}{\mh}
\end{axis}
\capt{163}{1003}{(a)\hspace{11pt}RL\hspace{6pt}\nueq{0.7}}
\capt{521.7}{1003}{(b)\hspace{11pt}Caputo\hspace{6pt}\nueq{0.7}}
\capt{163}{671}{(c)\hspace{11pt}RL\hspace{6pt}\nueq{0.9}}
\capt{521.7}{671}{(d)\hspace{11pt}Caputo\hspace{6pt}\nueq{0.9}}
\capt{163}{340}{(e)\hspace{11pt}RL\hspace{6pt}\nueq{1.1}}
\capt{521.7}{340}{(f)\hspace{11pt}Caputo\hspace{6pt}\nueq{1.1}}
\capt{163}{6}{(g)\hspace{11pt}RL\hspace{6pt}\nueq{1.3}}
\capt{521.7}{6}{(h)\hspace{11pt}Caputo\hspace{6pt}\nueq{1.3}}
\end{tikzpicture}
\end{document}
